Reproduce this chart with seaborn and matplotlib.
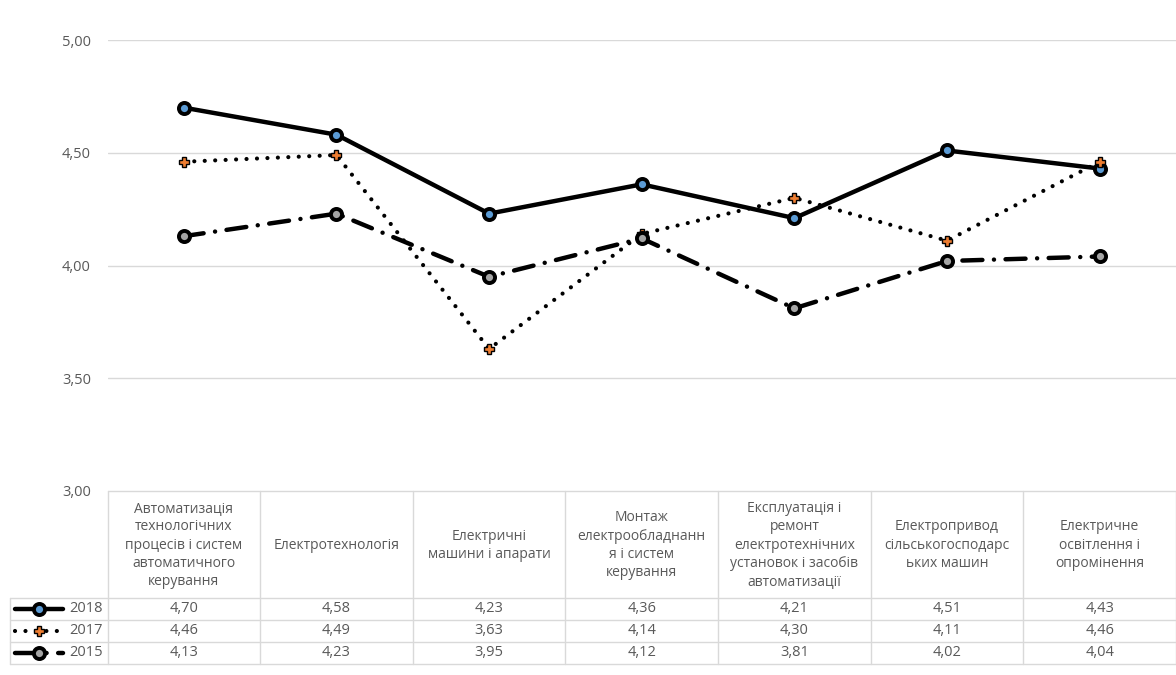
import matplotlib
matplotlib.use("Agg")
import matplotlib.pyplot as plt
import seaborn as sns
import pandas as pd

categories = [
    "Автоматизація\nтехнологічних\nпроцесів і систем\nавтоматичного\nкерування",
    "Електротехнологія",
    "Електричні\nмашини і апарати",
    "Монтаж\nелектрообладнанн\nя і систем\nкерування",
    "Експлуатація і\nремонт\nелектротехнічних\nустановок і засобів\nавтоматизації",
    "Електропривод\nсільськогосподарс\nьких машин",
    "Електричне\nосвітлення і\nопромінення",
]
series_names = ["2018", "2017", "2015"]
values_2018 = [4.70, 4.58, 4.23, 4.36, 4.21, 4.51, 4.43]
values_2017 = [4.46, 4.49, 3.63, 4.14, 4.30, 4.11, 4.46]
values_2015 = [4.13, 4.23, 3.95, 4.12, 3.81, 4.02, 4.04]
y_ticks = [3.0, 3.5, 4.0, 4.5, 5.0]

series_values = [values_2018, values_2017, values_2015]

sns.set_theme(style="white")
plt.rcParams["font.family"] = ["Open Sans", "DejaVu Sans"]
TXT = "#595959"
GRID = "#d9d9d9"

W, H = 1176, 675
fig = plt.figure(figsize=(W / 100, H / 100), dpi=100)

left_px, right_px, top_px, bot_px = 107.5, 1176, 40, 491
ax = fig.add_axes([left_px / W, 1 - bot_px / H, (right_px - left_px) / W, (bot_px - top_px) / H])
ax.set_facecolor("none")

rows = []
for name, vals in zip(series_names, series_values):
    for i, v in enumerate(vals):
        rows.append({"pos": i, "value": v, "series": name})
df = pd.DataFrame(rows)

styles = {
    "2018": dict(color="black", lw=3.2, ls="-", marker="o", ms=8, mfc="#5B9BD5", mec="black", mew=2.8),
    "2017": dict(color="black", lw=3.0, ls=(0, (0.01, 2.5)), marker="P", ms=7.5, mfc="#ED7D31", mec="black", mew=1.0),
    "2015": dict(color="black", lw=3.2, ls=(0, (4.5, 2.6, 0.01, 2.6)), marker="o", ms=8, mfc="#A5A5A5", mec="black", mew=2.8),
}

for name in series_names:
    st = styles[name]
    sub = df[df["series"] == name]
    sns.lineplot(data=sub, x="pos", y="value", ax=ax, color=st["color"], linewidth=st["lw"],
                 linestyle=st["ls"], marker=st["marker"], markersize=st["ms"],
                 markerfacecolor=st["mfc"], markeredgecolor=st["mec"], markeredgewidth=st["mew"],
                 dash_capstyle="round", solid_capstyle="round", legend=False, zorder=3)

ax.set_xlim(-0.5, len(categories) - 0.5)
ax.set_ylim(3.0, 5.0)
ax.set_yticks(y_ticks)
ax.set_yticklabels([f"{t:.2f}".replace(".", ",") for t in y_ticks], color=TXT, fontsize=10.5)
ax.tick_params(axis="y", length=0, pad=12)
ax.set_xticks([])
ax.set_xlabel("")
ax.set_ylabel("")
for t in y_ticks[1:]:
    ax.axhline(t, color=GRID, lw=1, zorder=0)
for s in ax.spines.values():
    s.set_visible(False)

# data table in pixel coordinates
tab = fig.add_axes([0, 0, 1, 1], zorder=-1)
tab.set_xlim(0, W)
tab.set_ylim(H, 0)
tab.axis("off")
tab.set_facecolor("none")

n = len(categories)
cw = (right_px - left_px) / n
hdr_top, hdr_bot = 491, 597.5
row_h = 22
rows_y = [hdr_bot + k * row_h for k in range(len(series_names) + 1)]
tab_bot = rows_y[-1]

tab.plot([left_px, right_px], [hdr_top, hdr_top], color=GRID, lw=1)
for y in rows_y:
    tab.plot([10, right_px], [y, y], color=GRID, lw=1)
for k in range(n + 1):
    x = left_px + k * cw
    x = min(x, right_px - 0.5)
    tab.plot([x, x], [hdr_top, tab_bot], color=GRID, lw=1)
tab.plot([10, 10], [hdr_bot, tab_bot], color=GRID, lw=1)

for k, cat in enumerate(categories):
    cx = left_px + (k + 0.5) * cw
    tab.text(cx, (hdr_top + hdr_bot) / 2 + 1, cat, ha="center", va="center", fontsize=10,
             color=TXT, linespacing=1.3)

for r, (name, vals) in enumerate(zip(series_names, series_values)):
    cy = rows_y[r] + row_h / 2
    for k, v in enumerate(vals):
        cx = left_px + (k + 0.5) * cw
        tab.text(cx, cy, f"{v:.2f}".replace(".", ","), ha="center", va="center", fontsize=10.5, color=TXT)
    st = styles[name]
    tab.plot([15, 63], [cy, cy], color=st["color"], lw=st["lw"], ls=st["ls"],
             dash_capstyle="round", solid_capstyle="round")
    tab.plot([39], [cy], marker=st["marker"], ms=st["ms"], mfc=st["mfc"], mec=st["mec"], mew=st["mew"], ls="none")
    tab.text(103, cy, name, ha="right", va="center", fontsize=10.5, color=TXT)

fig.savefig("out.png", dpi=100)
